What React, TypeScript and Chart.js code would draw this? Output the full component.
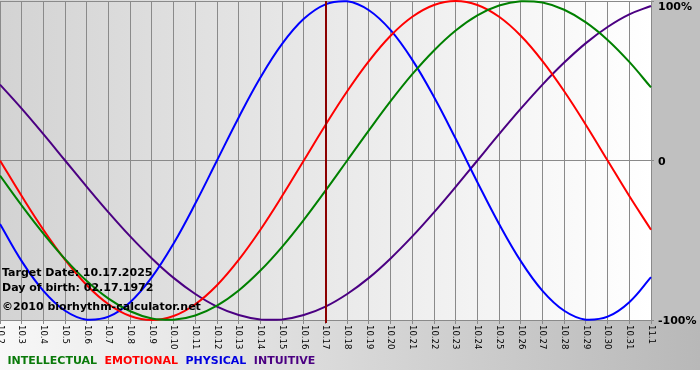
import { useEffect, useRef } from 'react';
import { Chart, registerables } from 'chart.js';

Chart.register(...registerables);

const days = ['10.2', '10.3', '10.4', '10.5', '10.6', '10.7', '10.8', '10.9', '10.10', '10.11', '10.12', '10.13', '10.14', '10.15', '10.16', '10.17', '10.18', '10.19', '10.20', '10.21', '10.22', '10.23', '10.24', '10.25', '10.26', '10.27', '10.28', '10.29', '10.30', '10.31', '11.1'];

const intellectual = [-0.095, -0.282, -0.458, -0.618, -0.756, -0.866, -0.945, -0.99, -0.999, -0.972, -0.91, -0.815, -0.69, -0.541, -0.372, -0.189, 0, 0.189, 0.372, 0.541, 0.69, 0.815, 0.91, 0.972, 0.999, 0.99, 0.945, 0.866, 0.756, 0.618, 0.458];
const emotional = [0, -0.223, -0.434, -0.623, -0.782, -0.901, -0.975, -1, -0.975, -0.901, -0.782, -0.623, -0.434, -0.223, 0, 0.223, 0.434, 0.623, 0.782, 0.901, 0.975, 1, 0.975, 0.901, 0.782, 0.623, 0.434, 0.223, 0, -0.223, -0.434];
const physical = [-0.398, -0.631, -0.817, -0.942, -0.998, -0.979, -0.888, -0.731, -0.52, -0.27, 0, 0.27, 0.52, 0.731, 0.888, 0.979, 0.998, 0.942, 0.817, 0.631, 0.398, 0.136, -0.136, -0.398, -0.631, -0.817, -0.942, -0.998, -0.979, -0.888, -0.731];
const intuitive = [0.476, 0.325, 0.165, 0, -0.165, -0.325, -0.476, -0.614, -0.736, -0.837, -0.916, -0.969, -0.997, -0.997, -0.969, -0.916, -0.837, -0.736, -0.614, -0.476, -0.325, -0.165, 0, 0.165, 0.325, 0.476, 0.614, 0.736, 0.837, 0.916, 0.969];

const seriesNames = ['INTELLECTUAL', 'EMOTIONAL', 'PHYSICAL', 'INTUITIVE'];
const seriesColors = ['#008000', '#ff0000', '#0000ff', '#4b0082'];
const legendColors = ['#0a7a0a', '#ff0000', '#0000e0', '#4b0082'];

const yTickValues = [1, 0, -1];
const yTickLabels = ['100%', '0', '-100%'];

const targetDay = '10.17';
const infoLines = ['Target Date: 10.17.2025', 'Day of birth: 02.17.1972', '\u00a92010 biorhythm-calculator.net'];

const FONT = '"DejaVu Sans", Verdana, sans-serif';

export default function App() {
  const ref = useRef<HTMLCanvasElement>(null);

  useEffect(() => {
    document.body.style.margin = '0';
    const canvas = ref.current;
    if (!canvas) return;

    const bgPlugin = {
      id: 'bgPlugin',
      beforeDraw(chart: any) {
        const { ctx, chartArea: a, width, height } = chart;
        ctx.save();
        ctx.fillStyle = '#ffffff';
        ctx.fillRect(0, 0, width, height);
        ctx.fillStyle = '#c0c0c0';
        ctx.fillRect(a.right, 0, width - a.right, a.bottom);
        const g = ctx.createLinearGradient(0, 0, width, 0);
        g.addColorStop(0, '#f8f8f8');
        g.addColorStop(1, '#b8b8b8');
        ctx.fillStyle = g;
        ctx.fillRect(0, a.bottom, width, height - 10 - a.bottom);
        const pg = ctx.createLinearGradient(a.left, 0, a.right, 0);
        pg.addColorStop(0, '#d3d3d3');
        pg.addColorStop(1, '#ffffff');
        ctx.fillStyle = pg;
        ctx.fillRect(a.left, 0, a.right - a.left, a.bottom);
        ctx.restore();
      },
      afterDatasetsDraw(chart: any) {
        const { ctx, chartArea: a } = chart;
        const xs = chart.scales.x;
        const idx = days.indexOf(targetDay);
        const x = Math.round(xs.getPixelForValue(idx));
        ctx.save();
        ctx.strokeStyle = '#8b0000';
        ctx.lineWidth = 2;
        ctx.beginPath();
        ctx.moveTo(x, a.top);
        ctx.lineTo(x, a.bottom + 3);
        ctx.stroke();
        ctx.restore();
      },
      afterDraw(chart: any) {
        const { ctx, chartArea: a } = chart;
        const xs = chart.scales.x;
        ctx.save();
        ctx.fillStyle = '#000000';
        ctx.font = '8.5px ' + FONT;
        ctx.textAlign = 'left';
        ctx.textBaseline = 'middle';
        xs.ticks.forEach((t: any, i: number) => {
          const x = xs.getPixelForTick(i);
          ctx.save();
          ctx.translate(x, a.bottom + 5);
          ctx.rotate(Math.PI / 2);
          ctx.fillText(xs.getLabelForValue(t.value), 0, 0);
          ctx.restore();
        });
        ctx.font = 'bold 11px ' + FONT;
        ctx.textBaseline = 'alphabetic';
        const baselines = [276, 291, 310];
        infoLines.forEach((line, i) => {
          ctx.fillText(line, 2, baselines[i]);
        });
        ctx.restore();
      },
    };

    const chart = new Chart(canvas, {
      type: 'line',
      data: {
        labels: days,
        datasets: [intellectual, emotional, physical, intuitive].map((d, i) => ({
          label: seriesNames[i],
          data: d,
          borderColor: seriesColors[i],
          backgroundColor: seriesColors[i],
          borderWidth: 2,
          pointRadius: 0,
          tension: 0.4,
          fill: false,
          clip: 3,
        })),
      },
      options: {
        responsive: false,
        animation: false,
        events: [],
        layout: { padding: { top: 1, right: 0, bottom: 3, left: 0 } },
        font: { family: FONT },
        scales: {
          x: {
            type: 'category',
            offset: false,
            grid: { color: '#8a8a8a', lineWidth: 1, tickLength: 4, drawTicks: true },
            border: { color: '#8a8a8a' },
            ticks: { display: false, autoSkip: false },
            afterFit: (s: any) => {
              s.height = 34;
              s.paddingLeft = 0;
              s.paddingRight = 0;
            },
          },
          y: {
            position: 'right',
            min: -1,
            max: 1,
            grid: { color: '#8a8a8a', lineWidth: 1, tickLength: 3 },
            border: { color: '#8a8a8a' },
            ticks: {
              stepSize: 1,
              padding: 4,
              labelOffset: 1.5,
              color: '#000000',
              font: { family: FONT, size: 11, weight: 'bold', lineHeight: '10px' },
              callback: (value: any) => {
                const i = yTickValues.indexOf(Number(value));
                if (i < 0) return '';
                return i === 0 ? ['', yTickLabels[i]] : yTickLabels[i];
              },
            },
            afterFit: (s: any) => {
              s.width = 49;
              s.paddingTop = 0;
              s.paddingBottom = 0;
            },
          },
        },
        plugins: {
          tooltip: { enabled: false },
          title: { display: false },
          legend: {
            display: true,
            position: 'bottom',
            align: 'start',
            labels: {
              boxWidth: 0,
              boxHeight: 0,
              padding: 2,
              font: { family: FONT, size: 11, weight: 'bold' },
              generateLabels: () =>
                seriesNames.map((name, i) => ({
                  text: name,
                  fontColor: legendColors[i],
                  fillStyle: 'rgba(0,0,0,0)',
                  strokeStyle: 'rgba(0,0,0,0)',
                  lineWidth: 0,
                  hidden: false,
                  datasetIndex: i,
                })),
            },
          },
        },
      },
      plugins: [bgPlugin],
    } as any);

    return () => chart.destroy();
  }, []);

  return (
    <div style={{ width: 700, height: 380 }}>
      <canvas ref={ref} width={700} height={380} style={{ display: 'block' }} />
    </div>
  );
}
